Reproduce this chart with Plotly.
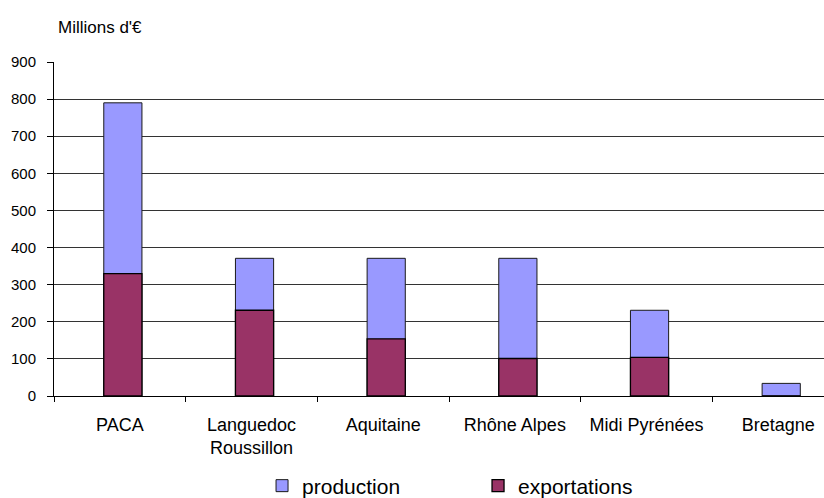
import plotly.graph_objects as go

regions = ["PACA", "Languedoc<br>Roussillon", "Aquitaine", "Rhône Alpes", "Midi Pyrénées", "Bretagne"]
production = [790, 371, 371, 371, 231, 34]
exportations = [330, 231, 154, 101, 104, 0]
y_ticks = [0, 100, 200, 300, 400, 500, 600, 700, 800, 900]

FONT = "Liberation Sans, Arial, sans-serif"

fig = go.Figure()
fig.add_trace(go.Bar(
    x=regions, y=production, name="production",
    marker=dict(color="#9999FF", line=dict(color="#1a1a1a", width=1)),
    width=0.29, offset=-0.122,
))
fig.add_trace(go.Bar(
    x=regions, y=exportations, name="exportations",
    marker=dict(color="#993366", line=dict(color="#000000", width=1.3)),
    width=0.29, offset=-0.122,
))

fig.update_layout(
    width=824, height=498,
    margin=dict(l=54, r=0, t=62, b=102, autoexpand=False),
    barmode="overlay",
    plot_bgcolor="white", paper_bgcolor="white",
    font=dict(family=FONT, color="black"),
    showlegend=True,
    legend=dict(
        orientation="h", xref="container", yref="container",
        x=0.318, xanchor="left", y=0.0241, yanchor="middle",
        font=dict(size=21, family=FONT, color="black"),
        entrywidth=171, bgcolor="rgba(0,0,0,0)",
    ),
    annotations=[dict(
        text="Millions d'€", xref="paper", yref="paper",
        x=0.002, y=1.102, xanchor="left", yanchor="middle",
        showarrow=False, font=dict(size=17, family=FONT, color="black"),
    )],
)

fig.update_xaxes(
    type="category", range=[-0.5, 5.348],
    showline=True, linecolor="black", linewidth=1,
    ticks="outside", tickson="boundaries", ticklen=5, tickcolor="black",
    tickfont=dict(size=18, family=FONT, color="black"),
    ticklabelstandoff=12,
    showgrid=False, zeroline=False,
)
fig.update_yaxes(
    range=[0, 900], tickvals=y_ticks,
    showline=True, linecolor="black", linewidth=1,
    ticks="outside", ticklen=6, tickcolor="black",
    tickfont=dict(size=15, family=FONT, color="black"),
    ticklabelstandoff=8,
    showgrid=True, gridcolor="#333333", gridwidth=1,
    zeroline=False,
)

fig.write_html(
    "out.html",
    config={"displayModeBar": False},
    post_script="document.body.style.margin='0';document.body.style.overflow='hidden';",
)
